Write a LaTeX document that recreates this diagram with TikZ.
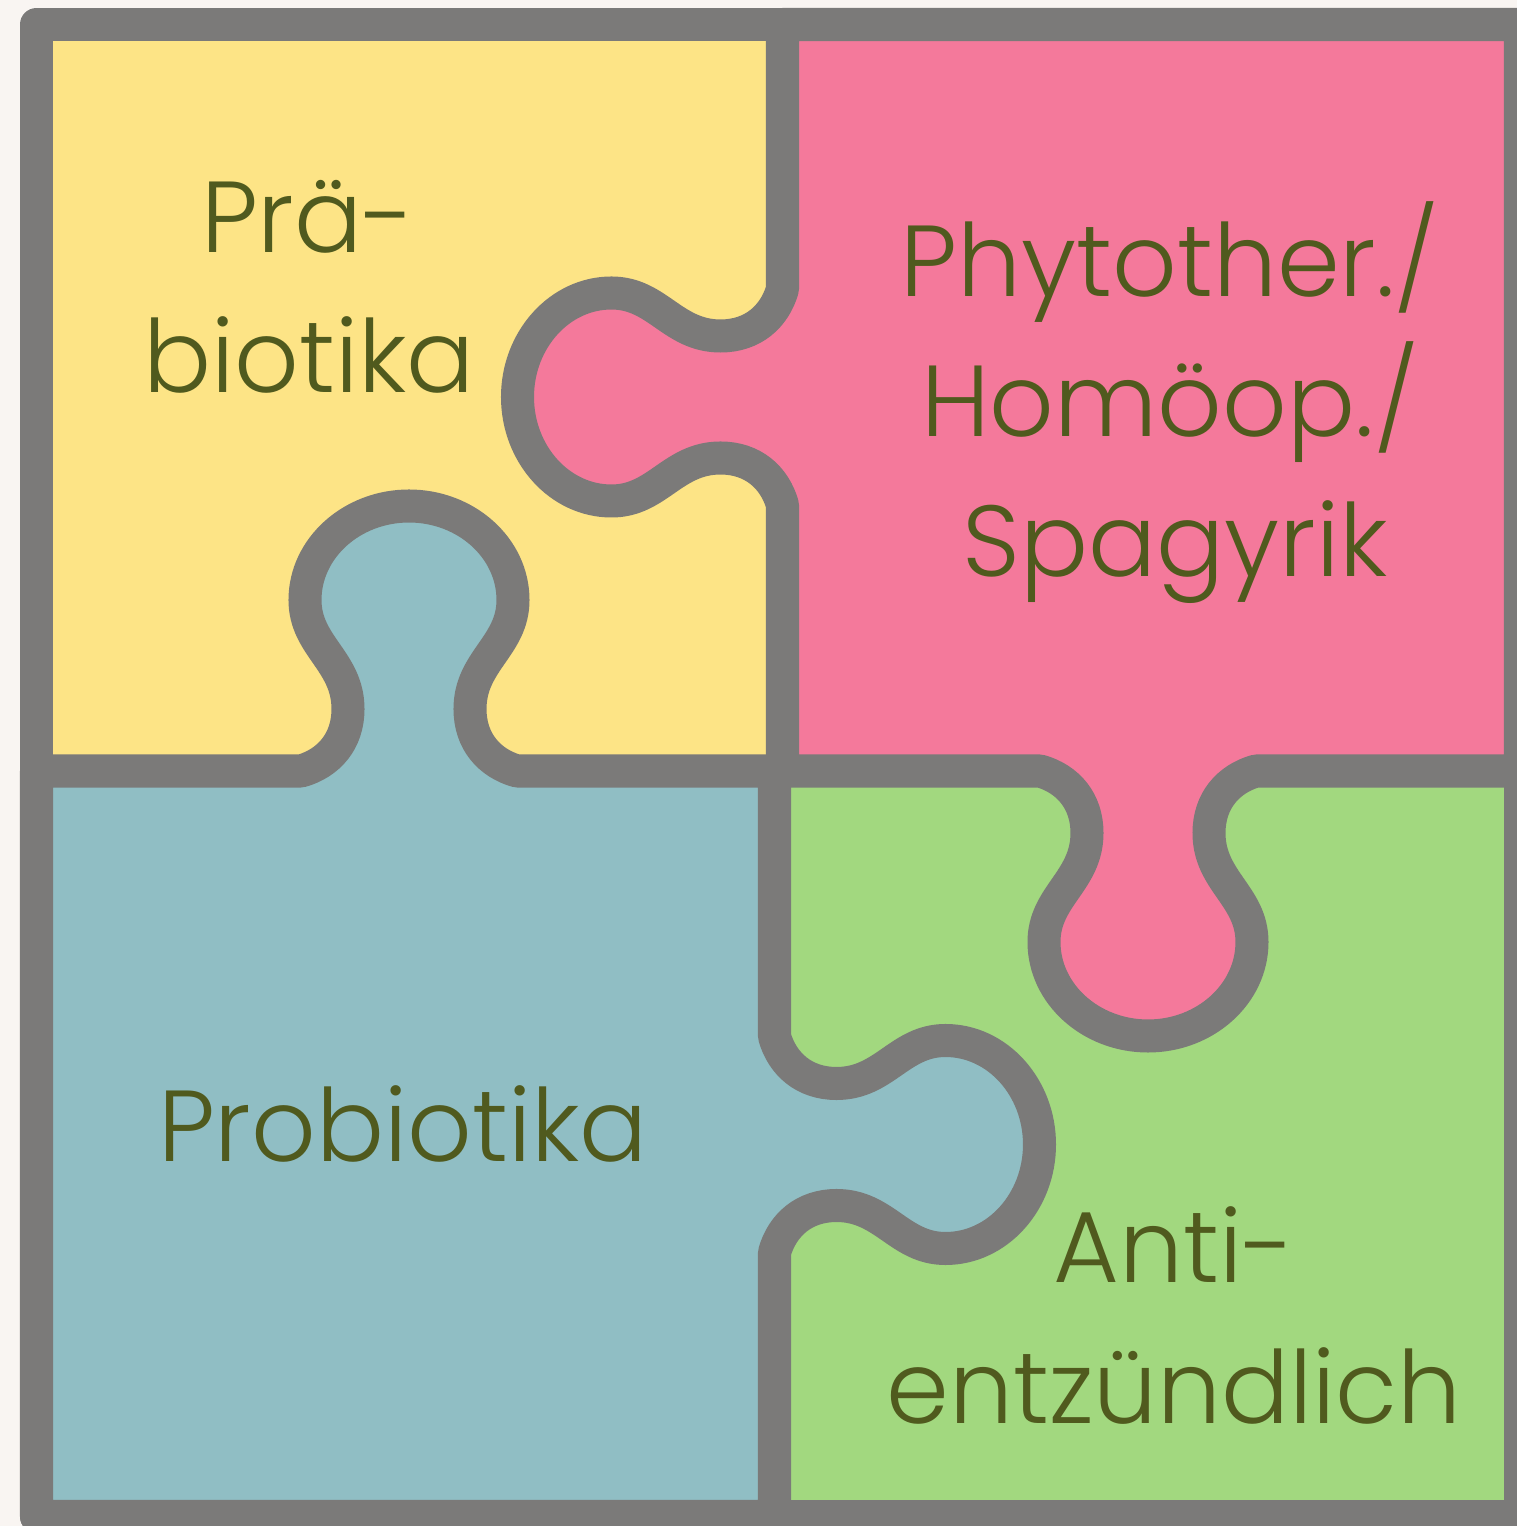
\documentclass[tikz,border=0pt]{standalone}
\usepackage{fontspec}
\setmainfont{Poppins}[UprightFont=* Light]
\definecolor{paper}{HTML}{F9F5F2}
\definecolor{rim}{HTML}{7B7A79}
\definecolor{yellowpc}{HTML}{FDE486}
\definecolor{pinkpc}{HTML}{F4799B}
\definecolor{bluepc}{HTML}{90BEC4}
\definecolor{greenpc}{HTML}{A2D87F}
\definecolor{ink}{HTML}{505A1E}

\begin{document}
\begin{tikzpicture}[
  x=0.01cm,y=0.01cm,
  edge/.style={draw=rim,line width=0.33cm,line join=round},
  label/.style={font=\fontsize{28.7}{40}\selectfont,text=ink,inner sep=0pt,anchor=base},
]
\fill[paper] (0,0) rectangle (1517,1526);
\useasboundingbox (0,0) rectangle (1517,1526);
\clip (0,0) rectangle (1517,1526);
% plain pieces first
\fill[yellowpc] (36.5,755) rectangle (782.5,1501.5);
\fill[greenpc] (774.5,9.5) rectangle (1520.5,755);
% pink piece, knobs to the left and down
\path[edge,fill=pinkpc] (782.5,1501.5) -- (1520.5,1501.5) -- (1520.5,755) -- (1256,755)
  .. controls (1228,747) and (1209,725) .. (1209,693)
  .. controls (1209,645) and (1252,630) .. (1252,584)
  .. controls (1252,532) and (1205,490) .. (1148,490)
  .. controls (1091,490) and (1044,532) .. (1044,584)
  .. controls (1044,630) and (1087,645) .. (1087,693)
  .. controls (1087,725) and (1068,747) .. (1040,755)
  -- (782.5,755) -- (782.5,1021)
  .. controls (774.5,1049) and (752.5,1068) .. (720.5,1068)
  .. controls (672.5,1068) and (657.5,1025) .. (611.5,1025)
  .. controls (559.5,1025) and (517.5,1072) .. (517.5,1129)
  .. controls (517.5,1186) and (559.5,1233) .. (611.5,1233)
  .. controls (657.5,1233) and (672.5,1190) .. (720.5,1190)
  .. controls (752.5,1190) and (774.5,1209) .. (782.5,1237) -- cycle;
% blue piece, knobs up and to the right
\path[edge,fill=bluepc] (36.5,755) -- (301,755)
  .. controls (329,763) and (348,785) .. (348,817)
  .. controls (348,865) and (305,880) .. (305,926)
  .. controls (305,978) and (352,1020) .. (409,1020)
  .. controls (466,1020) and (513,978) .. (513,926)
  .. controls (513,880) and (470,865) .. (470,817)
  .. controls (470,785) and (489,763) .. (517,755)
  -- (774.5,755) -- (774.5,489.5)
  .. controls (782.5,461.5) and (804.5,442.5) .. (836.5,442.5)
  .. controls (884.5,442.5) and (899.5,485.5) .. (945.5,485.5)
  .. controls (997.5,485.5) and (1039.5,438.5) .. (1039.5,381.5)
  .. controls (1039.5,324.5) and (997.5,277.5) .. (945.5,277.5)
  .. controls (899.5,277.5) and (884.5,320.5) .. (836.5,320.5)
  .. controls (804.5,320.5) and (782.5,301.5) .. (774.5,273.5)
  -- (774.5,9.5) -- (36.5,9.5) -- cycle;
\path[edge] (36.5,9.5) rectangle (1520.5,1501.5);
% labels
\node[label] (pre1) at (308,1273) {Prä-};
\node[label] (pre2) at (309,1133) {biotika};
\node[label] (phy1) at (1170,1229) {Phytother./};
\node[label] (phy2) at (1170,1089) {Homöop./};
\node[label] (phy3) at (1175,949) {Spagyrik};
\node[label] (pro) at (403,364) {Probiotika};
\node[label] (anti1) at (1174,243) {Anti-};
\node[label] (anti2) at (1174,103) {entzündlich};
\end{tikzpicture}
\end{document}
